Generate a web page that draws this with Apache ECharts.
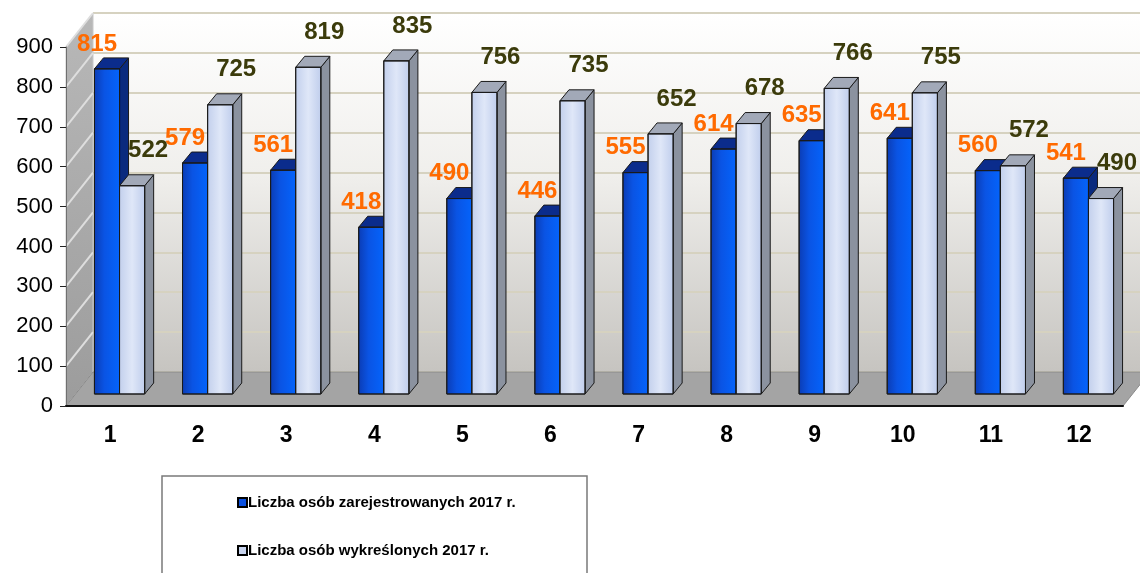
<!DOCTYPE html>
<html>
<head>
<meta charset="utf-8">
<script src="https://cdn.jsdelivr.net/npm/echarts@6/dist/echarts.min.js"></script>
<style>
  html, body { margin: 0; padding: 0; background: #fff; }
  #chart { width: 1140px; height: 573px; }
</style>
</head>
<body>
<div id="chart"></div>
<script>
// dane
var months = ['1', '2', '3', '4', '5', '6', '7', '8', '9', '10', '11', '12'];
var registered = [815, 579, 561, 418, 490, 446, 555, 614, 635, 641, 560, 541];
var removed = [522, 725, 819, 835, 756, 735, 652, 678, 766, 755, 572, 490];
var seriesNames = ['Liczba osób zarejestrowanych 2017 r.', 'Liczba osób wykreślonych 2017 r.'];
var yMin = 0, yMax = 900, yStep = 100;

// uklad "3D"
var GL = 66, GR = 17, GT = 47, GB = 167;   // przednia plaszczyzna osi
var DX = 27, DY = -34;                      // glebokosc scian
var FX = 9.5, FY = -12;                     // przesuniecie przodu slupkow
var BX = 9, BY = -11;                       // glebokosc slupka

var chart = echarts.init(document.getElementById('chart'));

function bar3d(which) {
    return function (params, api) {
        var i = api.value(0), v = api.value(1);
        var c = api.coord([i, v]);
        var b = api.coord([i, 0]);
        var band = api.size([1, 0])[0];
        var w = band * 0.285;
        var x0 = c[0] + FX + (which === 0 ? -w : 0);
        var x1 = x0 + w;
        var yT = c[1] + FY, yB = b[1] + FY;
        var front, topC, sideC, lbl;
        if (which === 0) {
            front = new echarts.graphic.LinearGradient(0, 0, 1, 0, [
                {offset: 0, color: '#0b3cb4'},
                {offset: 0.4, color: '#0a54e4'},
                {offset: 1, color: '#0464fc'}
            ]);
            topC = '#0b2c8c'; sideC = '#0a2a7e';
            lbl = {x: (x0 + x1) / 2 - 10, y: yT - 25, fill: '#ff6a00'};
        } else {
            front = new echarts.graphic.LinearGradient(0, 0, 1, 0, [
                {offset: 0, color: '#c2cfec'},
                {offset: 0.5, color: '#dfe7f8'},
                {offset: 1, color: '#bfcdec'}
            ]);
            topC = '#a2a9b8'; sideC = '#8b929f';
            lbl = {x: (x0 + x1) / 2 + 16, y: yT - 35, fill: '#3b3b0b'};
        }
        return {
            type: 'group',
            children: [
                {type: 'polygon', shape: {points: [[x1, yT], [x1 + BX, yT + BY], [x1 + BX, yB + BY], [x1, yB]]},
                    style: {fill: sideC, stroke: '#1a1a1a', lineWidth: 1}},
                {type: 'polygon', shape: {points: [[x0, yT], [x0 + BX, yT + BY], [x1 + BX, yT + BY], [x1, yT]]},
                    style: {fill: topC, stroke: '#1a1a1a', lineWidth: 1}},
                {type: 'rect', shape: {x: x0, y: yT, width: w, height: yB - yT},
                    style: {fill: front, stroke: '#1a1a1a', lineWidth: 1}},
                {type: 'text', z2: 10, style: {
                    text: String(v), x: lbl.x, y: lbl.y, fill: lbl.fill,
                    font: 'bold 24px "Liberation Sans", Arial, sans-serif',
                    align: 'center', verticalAlign: 'middle'
                }}
            ]
        };
    };
}

var option = {
    animation: false,
    backgroundColor: '#fff',
    grid: [
        {left: GL, right: GR, top: GT, bottom: GB, z: 2},
        // tylna sciana
        {left: GL + DX, right: GR - DX, top: GT + DY, bottom: GB - DY, show: true, borderWidth: 0, z: 0,
            backgroundColor: new echarts.graphic.LinearGradient(0, 0, 0, 1, [
                {offset: 0, color: '#ffffff'},
                {offset: 0.45, color: '#f0efec'},
                {offset: 1, color: '#c6c4c0'}
            ])}
    ],
    xAxis: [
        {type: 'category', gridIndex: 0, data: months, z: 3,
            axisLine: {lineStyle: {color: '#111', width: 2}},
            axisTick: {length: 6, lineStyle: {color: '#111', width: 1}},
            axisLabel: {color: '#000', fontSize: 23, fontWeight: 'bold', margin: 18,
                fontFamily: '"Liberation Sans", Arial, sans-serif'}},
        {type: 'category', gridIndex: 1, data: months, show: false}
    ],
    yAxis: [
        {type: 'value', gridIndex: 0, min: yMin, max: yMax, interval: yStep, z: 3,
            axisLine: {show: true, lineStyle: {color: '#707070', width: 1}},
            axisTick: {show: true, length: 6, lineStyle: {color: '#222'}},
            splitLine: {show: false},
            axisLabel: {color: '#000', fontSize: 22, margin: 13,
                fontFamily: '"Liberation Sans", Arial, sans-serif'}},
        {type: 'value', gridIndex: 1, min: yMin, max: yMax, interval: yStep,
            axisLine: {show: false}, axisTick: {show: false}, axisLabel: {show: false},
            splitLine: {show: true, lineStyle: {color: '#d6d2c0', width: 2}}}
    ],
    legend: {
        orient: 'vertical', left: 237, top: 495, itemGap: 33, padding: 0,
        itemWidth: 9, itemHeight: 9, icon: 'rect',
        textStyle: {color: '#000', fontSize: 15, fontWeight: 'bold',
            fontFamily: '"Liberation Sans", Arial, sans-serif', padding: [0, 0, 0, -4]},
        data: seriesNames
    },
    series: [
        {name: seriesNames[0], type: 'custom', xAxisIndex: 0, yAxisIndex: 0, z: 4,
            itemStyle: {color: '#0a50e0', borderColor: '#000', borderWidth: 1},
            renderItem: bar3d(0), encode: {x: 0, y: 1},
            data: registered.map(function (v, i) { return [i, v]; })},
        {name: seriesNames[1], type: 'custom', xAxisIndex: 0, yAxisIndex: 0, z: 5,
            itemStyle: {color: '#c8d4ee', borderColor: '#000', borderWidth: 1},
            renderItem: bar3d(1), encode: {x: 0, y: 1},
            data: removed.map(function (v, i) { return [i, v]; })}
    ]
};
chart.setOption(option);

// sciana boczna, podloga i ramka legendy
var y0 = chart.convertToPixel({yAxisIndex: 0}, yMin);
var yTop = chart.convertToPixel({yAxisIndex: 0}, yMax);
var xR = 1140 - GR;
var g = [];
g.push({type: 'polygon', z: 1, shape: {points: [[GL, y0], [GL + DX, y0 + DY], [GL + DX, yTop + DY], [GL, yTop]]},
    style: {fill: new echarts.graphic.LinearGradient(0, 0, 0, 1, [
        {offset: 0, color: '#b8b8b8'}, {offset: 1, color: '#9c9c9c'}]), stroke: '#c8c8c8', lineWidth: 1}});
for (var v = yMin + yStep; v <= yMax; v += yStep) {
    var yy = chart.convertToPixel({yAxisIndex: 0}, v);
    g.push({type: 'line', z: 1, shape: {x1: GL, y1: yy, x2: GL + DX, y2: yy + DY},
        style: {stroke: '#dedede', lineWidth: 2}});
}
g.push({type: 'polygon', z: 1, shape: {points: [[GL, y0], [xR, y0], [xR + DX, y0 + DY], [GL + DX, y0 + DY]]},
    style: {fill: '#a4a4a4', stroke: '#8a8a8a', lineWidth: 1}});
g.push({type: 'rect', z: 1, shape: {x: 162, y: 476, width: 425, height: 110},
    style: {fill: '#fff', stroke: '#7a7a7a', lineWidth: 1.5}});
chart.setOption({graphic: g});
</script>
</body>
</html>
